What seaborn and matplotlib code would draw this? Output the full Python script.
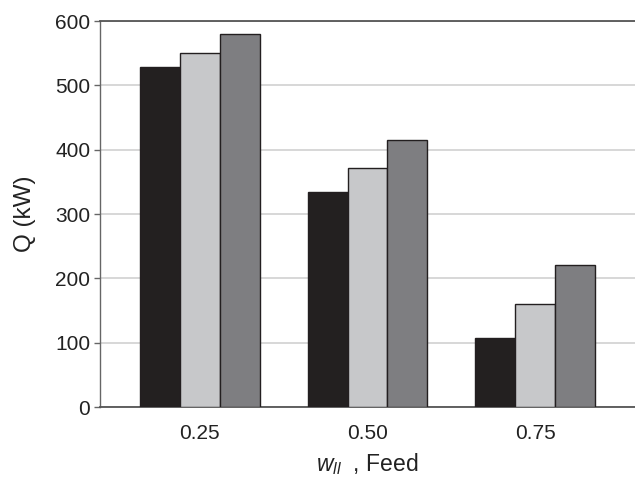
import pandas as pd
import matplotlib
matplotlib.use("Agg")
import matplotlib.pyplot as plt
import seaborn as sns

# Data
feeds = ["0.25", "0.50", "0.75"]
series = ["A", "B", "C"]
q_a = [529, 334, 108]
q_b = [551, 371, 160]
q_c = [580, 415, 220]

rows = []
for s, vals in zip(series, [q_a, q_b, q_c]):
    for f, v in zip(feeds, vals):
        rows.append({"feed": f, "series": s, "Q": v})
data = pd.DataFrame(rows)

sns.set_theme(style="white")
plt.rcParams["font.family"] = ["Liberation Sans", "DejaVu Sans"]
plt.rcParams["mathtext.fontset"] = "custom"
plt.rcParams["mathtext.rm"] = "Liberation Sans"
plt.rcParams["mathtext.it"] = "Liberation Sans:italic"

colors = ["#231f20", "#c7c8ca", "#7d7e82"]

fig = plt.figure(figsize=(6.35, 4.84), dpi=100)
ax = fig.add_axes([0.1575, 0.159, 0.8425, 0.7976])

sns.barplot(data=data, x="feed", y="Q", hue="series", order=feeds,
            hue_order=series, palette=colors, width=0.714, gap=0,
            edgecolor="#231f20", linewidth=1.0, legend=False, ax=ax,
            zorder=3)

ax.set_ylim(0, 600)
ax.set_xlim(-0.595, 2.595)
ax.set_yticks([0, 100, 200, 300, 400, 500, 600])
ax.yaxis.grid(True, color="#d4d4d4", linewidth=1.3, zorder=0)
ax.set_axisbelow(True)

ax.spines["right"].set_visible(False)
ax.spines["top"].set_color("#555555")
ax.spines["top"].set_linewidth(1.3)
ax.spines["left"].set_color("#666666")
ax.spines["bottom"].set_color("#555555")
ax.spines["left"].set_linewidth(1.0)
ax.spines["bottom"].set_linewidth(1.3)

ax.tick_params(axis="y", left=True, length=4, width=1, color="#666666",
               labelsize=15, pad=3, labelcolor="#222222")
ax.tick_params(axis="x", bottom=False, labelsize=15, pad=6,
               labelcolor="#222222")

ax.set_ylabel("Q (kW)", fontsize=17.5, color="#222222", labelpad=14)
ax.set_xlabel(r"$w_{ll}$  , Feed", fontsize=16.5, color="#222222", labelpad=6)

fig.savefig("out.png", dpi=100)
